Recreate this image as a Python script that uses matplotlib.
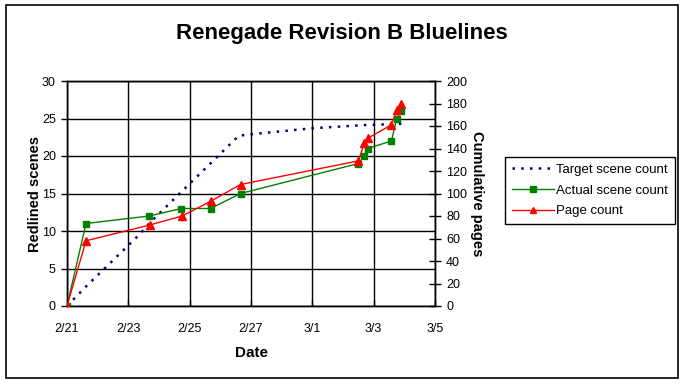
import matplotlib.pyplot as plt
from matplotlib.patches import Rectangle

plt.rcParams['font.family'] = ['Liberation Sans', 'DejaVu Sans']

# days after 2/21
date_ticks = [0, 2, 4, 6, 8, 10, 12]
date_labels = ['2/21', '2/23', '2/25', '2/27', '3/1', '3/3', '3/5']

target_days = [0, 0.62, 2.38, 2.7, 5.6, 6.0, 8.0, 9.6, 10.95]
target_scenes = [0, 2.6, 9.6, 11.1, 22.7, 22.9, 23.7, 24.1, 24.3]

actual_days = [0, 0.62, 2.68, 3.73, 4.68, 5.66, 9.5, 9.7, 9.8, 10.58, 10.75, 10.9]
actual_scenes = [0, 11, 12, 13, 13, 15, 19, 20, 21, 22, 25, 26]

page_days = [0, 0.62, 2.7, 3.75, 4.68, 5.66, 9.5, 9.7, 9.8, 10.58, 10.75, 10.9]
pages = [0, 58, 72, 80, 93, 108, 129, 145, 149, 161, 174, 180]

fig = plt.figure(figsize=(6.84, 3.84), dpi=100)
ax1 = fig.add_axes([67/684, 1-306/384, (435-67)/684, (306-81)/384])
ax2 = ax1.twinx()

l1, = ax1.plot(target_days, target_scenes, color='#000080', linestyle=(0, (1, 2.5)),
               linewidth=1.8, label='Target scene count', zorder=3)
l2, = ax1.plot(actual_days, actual_scenes, color='#008000', linewidth=1,
               marker='s', markersize=5, label='Actual scene count', zorder=4)
l3, = ax2.plot(page_days, pages, color='#FF0000', linewidth=1,
               marker='^', markersize=6, label='Page count', zorder=5)

ax1.set_xlim(0, 12)
ax1.set_ylim(0, 30)
ax2.set_ylim(0, 200)
ax1.set_xticks(date_ticks)
ax1.set_xticklabels(date_labels)
ax1.set_yticks(range(0, 31, 5))
ax2.set_yticks(range(0, 201, 20))
ax1.grid(True, color='black', linewidth=1)
ax1.set_axisbelow(True)

for ax in (ax1, ax2):
    for s in ax.spines.values():
        s.set_linewidth(1)
        s.set_color('black')
    ax.tick_params(labelsize=9, length=4, width=1, colors='black')
ax1.tick_params(axis='x', direction='in', pad=12)
ax1.tick_params(axis='y', direction='out', pad=4)
ax2.tick_params(axis='y', direction='inout', length=8, pad=4)

ax1.set_xlabel('Date', fontsize=11, fontweight='bold', labelpad=8)
ax1.set_ylabel('Redlined scenes', fontsize=10.5, fontweight='bold', labelpad=0)
ax2.set_ylabel('Cumulative pages', fontsize=10.5, fontweight='bold', rotation=-90, labelpad=12)

fig.text(342/684, 1-33/384, 'Renegade Revision B Bluelines', ha='center', va='center',
         fontsize=16, fontweight='bold')

leg = fig.legend(handles=[l1, l2, l3], loc='upper left',
                 bbox_to_anchor=(505/684, 1-157/384), fontsize=9.5, frameon=True,
                 fancybox=False, edgecolor='black', framealpha=1, borderaxespad=0,
                 handlelength=3.2, borderpad=0.5, labelspacing=0.65, handletextpad=0.2,
                 markerscale=0.75)
leg.get_frame().set_linewidth(1)

fig.patches.append(Rectangle((6/684, 1-378/384), (678-6)/684, (378-5)/384,
                             transform=fig.transFigure, fill=False,
                             edgecolor='black', linewidth=1.2))

fig.savefig('out.png', dpi=100)
